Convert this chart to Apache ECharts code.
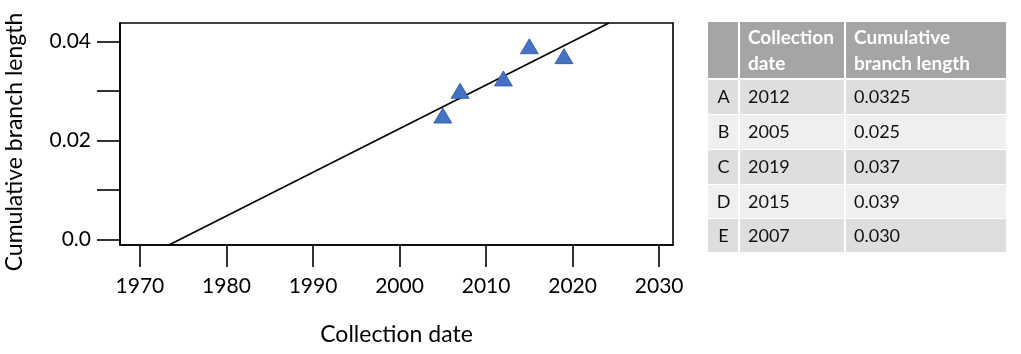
<!DOCTYPE html>
<html>
<head>
<meta charset="utf-8">
<script src="https://cdn.jsdelivr.net/npm/echarts@6/dist/echarts.min.js"></script>
<style>
html,body{margin:0;padding:0;background:#fff;}
#chart{width:1021px;height:354px;}
</style>
</head>
<body>
<div id="chart"></div>
<script>
// ---- data ----
const sampleLabels = ['A', 'B', 'C', 'D', 'E'];
const collectionDates = [2012, 2005, 2019, 2015, 2007];
const branchLengths = [0.0325, 0.025, 0.037, 0.039, 0.030];
const branchLengthText = ['0.0325', '0.025', '0.037', '0.039', '0.030'];
// regression line endpoints
const fitYears = [1973.35, 2024.2];
const fitValues = [-0.00115, 0.0437];
const xTicks = [1970, 1980, 1990, 2000, 2010, 2020, 2030];
const yTicks = [0, 0.01, 0.02, 0.03, 0.04];
const yLabelTicks = [0, 0.02, 0.04];
const tableHeader = ['', 'Collection\ndate', 'Cumulative\nbranch length'];

const FONT = 'Lato, "Noto Sans", sans-serif';
const chart = echarts.init(document.getElementById('chart'), null, {renderer: 'canvas'});

// table layout
const colX = [708, 739, 845, 1006];
const headerTop = 22, headerBottom = 79;
const rowTops = [80, 115, 150, 185, 219, 253];
const graphics = [];
graphics.push({type: 'rect', shape: {x: colX[0], y: headerTop, width: colX[3] - colX[0], height: headerBottom - headerTop}, style: {fill: '#A5A5A5'}});
for (let i = 0; i < sampleLabels.length; i++) {
  graphics.push({type: 'rect', shape: {x: colX[0], y: rowTops[i], width: colX[3] - colX[0], height: rowTops[i + 1] - rowTops[i] - 1}, style: {fill: i % 2 === 0 ? '#DEDEDE' : '#EFEFEF'}});
}
[colX[1], colX[2]].forEach(function (x) {
  graphics.push({type: 'rect', shape: {x: x - 1, y: headerTop, width: 2, height: rowTops[5] - headerTop}, style: {fill: '#FFFFFF'}});
});
graphics.push({type: 'rect', shape: {x: colX[0], y: headerBottom - 1, width: colX[3] - colX[0], height: 2}, style: {fill: '#FFFFFF'}});
[1, 2].forEach(function (c) {
  graphics.push({type: 'text', x: colX[c] + 9, y: (headerTop + headerBottom) / 2,
    style: {text: tableHeader[c], font: 'bold 19px ' + FONT, fill: '#FFFFFF', verticalAlign: 'middle', lineHeight: 26}});
});
for (let i = 0; i < sampleLabels.length; i++) {
  const cy = (rowTops[i] + rowTops[i + 1]) / 2;
  graphics.push({type: 'text', x: (colX[0] + colX[1]) / 2, y: cy, style: {text: sampleLabels[i], font: '18px ' + FONT, fill: '#111', align: 'center', verticalAlign: 'middle'}});
  graphics.push({type: 'text', x: colX[1] + 9, y: cy, style: {text: String(collectionDates[i]), font: '18px ' + FONT, fill: '#111', verticalAlign: 'middle'}});
  graphics.push({type: 'text', x: colX[2] + 9, y: cy, style: {text: branchLengthText[i], font: '18px ' + FONT, fill: '#111', verticalAlign: 'middle'}});
}

const option = {
  animation: false,
  backgroundColor: '#ffffff',
  textStyle: {fontFamily: FONT},
  grid: {left: 120, top: 23, width: 553, height: 222, show: true, borderColor: '#000', borderWidth: 1.6,
    backgroundColor: 'transparent', outerBoundsMode: 'none', containLabel: false},
  xAxis: {
    type: 'value', min: 1967.7, max: 2031.6,
    name: 'Collection date', nameLocation: 'middle', nameGap: 78,
    nameTextStyle: {fontSize: 23, color: '#000', fontFamily: FONT},
    axisLine: {show: true, onZero: false, lineStyle: {color: '#000', width: 1.6}},
    axisTick: {show: true, inside: false, length: 22, customValues: xTicks, lineStyle: {color: '#000', width: 1.6}},
    axisLabel: {customValues: xTicks, margin: 31, fontSize: 21, color: '#000', fontFamily: FONT,
      formatter: function (v) { return String(Math.round(v)); }},
    splitLine: {show: false}
  },
  yAxis: {
    type: 'value', min: -0.00115, max: 0.0437,
    name: 'Cumulative branch length', nameLocation: 'middle', nameGap: 94, nameRotate: 90,
    nameTextStyle: {fontSize: 23, color: '#000', fontFamily: FONT, padding: [0, 16, 0, 0]},
    axisLine: {show: true, onZero: false, lineStyle: {color: '#000', width: 1.6}},
    axisTick: {show: true, inside: false, length: 23, customValues: yTicks, lineStyle: {color: '#000', width: 1.6}},
    axisLabel: {customValues: yLabelTicks, margin: 29, fontSize: 21, color: '#000', fontFamily: FONT,
      formatter: function (v) { return v === 0 ? '0.0' : v.toFixed(2); }},
    splitLine: {show: false}
  },
  series: [
    {
      type: 'line', data: fitYears.map(function (x, i) { return [x, fitValues[i]]; }),
      symbol: 'none', clip: true, lineStyle: {color: '#000', width: 1.6}, z: 2
    },
    {
      type: 'scatter', data: collectionDates.map(function (x, i) { return [x, branchLengths[i]]; }),
      symbol: 'triangle', symbolSize: [18, 15],
      itemStyle: {color: '#4472C4', borderColor: '#2F5597', borderWidth: 0.8, opacity: 1}, z: 3
    }
  ],
  graphic: graphics
};
chart.setOption(option);
</script>
</body>
</html>
